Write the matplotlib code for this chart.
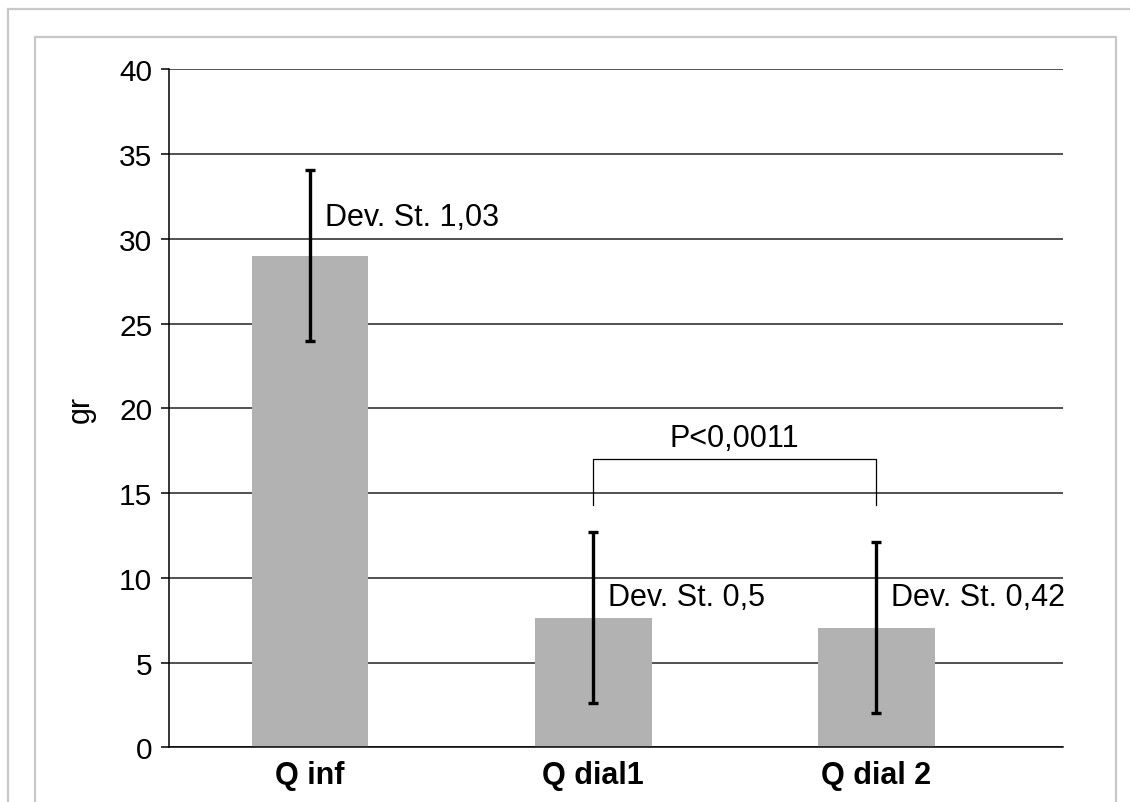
import numpy as np
import matplotlib.pyplot as plt
from matplotlib.patches import Rectangle

plt.rcParams['font.family'] = ['Liberation Sans', 'DejaVu Sans']

categories = ['Q inf', 'Q dial1', 'Q dial 2']
values = [29.0, 7.65, 7.05]
errors = [5.05, 5.05, 5.05]
sd_labels = ['Dev. St. 1,03', 'Dev. St. 0,5', 'Dev. St. 0,42']
p_label = 'P<0,0011'
p_level = 17.0

fig = plt.figure(figsize=(11.3, 8.03), dpi=100)

# light grey frames around the chart
fig.patches.append(Rectangle((8 / 1130, -0.1), 1.2, 1 - 10 / 803 + 0.1,
                             transform=fig.transFigure, fill=False,
                             edgecolor='#c8c8c8', linewidth=1.6, zorder=0))
fig.patches.append(Rectangle((35 / 1130, -0.1), (1116 - 35) / 1130, 1 - 38 / 803 + 0.1,
                             transform=fig.transFigure, fill=False,
                             edgecolor='#c8c8c8', linewidth=1.6, zorder=0))

ax = fig.add_axes([169 / 1130, 1 - 748.3 / 803, (1063 - 169) / 1130, (748.3 - 70.3) / 803])
x = np.arange(len(categories))

ax.bar(x, values, width=0.413, color='#b2b2b2', zorder=2)
ax.errorbar(x, values, yerr=errors, fmt='none', ecolor='black',
            elinewidth=2.4, capsize=3.5, capthick=2.4, zorder=3)

# standard deviation notes next to each bar
offsets = [28, 15, 22.5]
for xi, v, lab, dy in zip(x, values, sd_labels, offsets):
    ax.annotate(lab, (xi, v), xytext=(11, dy), textcoords='offset points',
                fontsize=22, ha='left', va='center')

# significance bracket between the two dialysis bars
ax.plot([1, 1, 2, 2], [p_level - 2.7, p_level, p_level, p_level - 2.7],
        color='black', linewidth=0.9, zorder=3)
ax.text(1.5, p_level + 1.25, p_label, fontsize=22, ha='center', va='center')

ax.set_ylim(0, 40)
ax.set_xlim(-0.498, 2.66)
ax.set_yticks(range(0, 41, 5))
ax.yaxis.grid(True, color='#222222', linewidth=1.1)
ax.set_axisbelow(True)
ax.set_xticks(x)
ax.set_xticklabels(categories, fontsize=22, fontweight='bold')
ax.tick_params(axis='y', labelsize=21.5, length=6, width=1.1, direction='out', pad=6)
ax.tick_params(axis='x', length=0, pad=9.5)
ax.set_ylabel('gr', fontsize=22, labelpad=17)

for side in ['top', 'right']:
    ax.spines[side].set_visible(False)
ax.spines['left'].set_linewidth(1.1)
ax.spines['bottom'].set_linewidth(1.1)

fig.savefig('out.png', dpi=100)
